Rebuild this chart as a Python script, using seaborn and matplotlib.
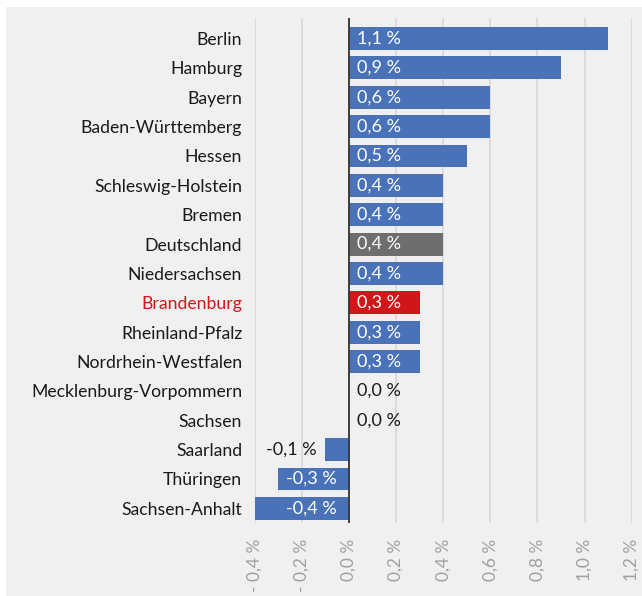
import matplotlib
matplotlib.use("Agg")
import matplotlib.pyplot as plt
import pandas as pd
import seaborn as sns
from matplotlib.patches import Rectangle

laender = ['Berlin', 'Hamburg', 'Bayern', 'Baden-Württemberg', 'Hessen',
           'Schleswig-Holstein', 'Bremen', 'Deutschland', 'Niedersachsen',
           'Brandenburg', 'Rheinland-Pfalz', 'Nordrhein-Westfalen',
           'Mecklenburg-Vorpommern', 'Sachsen', 'Saarland', 'Thüringen',
           'Sachsen-Anhalt']
veraenderung = [1.1, 0.9, 0.6, 0.6, 0.5, 0.4, 0.4, 0.4, 0.4, 0.3, 0.3, 0.3,
                0.0, 0.0, -0.1, -0.3, -0.4]
x_ticks = [-0.4, -0.2, 0.0, 0.2, 0.4, 0.6, 0.8, 1.0, 1.2]

BLAU = '#4a72b8'
GRAU = '#6e6e6e'
ROT = '#d0161a'
HG = '#f0f0f0'

df = pd.DataFrame({'land': laender, 'wert': veraenderung})
farben = {l: BLAU for l in laender}
farben['Deutschland'] = GRAU
farben['Brandenburg'] = ROT

sns.set_style('white')
plt.rcParams['font.family'] = ['Lato', 'DejaVu Sans']

W, H = 642, 596
fig = plt.figure(figsize=(W / 100, H / 100), dpi=100)
fig.patch.set_facecolor('white')
fig.patches.append(Rectangle((6 / W, 0), 1 - 6 / W, 1 - 7 / H,
                             transform=fig.transFigure, facecolor=HG,
                             edgecolor='none', zorder=-10))

ax = fig.add_axes([254.7 / W, 1 - 523 / H, 377 / W, 505 / H])
ax.set_facecolor('none')

sns.barplot(data=df, y='land', x='wert', hue='land', palette=farben,
            orient='h', width=0.78, legend=False, ax=ax, zorder=3,
            saturation=1, linewidth=0)

ax.set_xlim(-0.4, 1.2)
ax.set_ylim(16.5, -0.7)
ax.set_xticks(x_ticks)


def fmt(v):
    s = f'{abs(v):.1f}'.replace('.', ',') + ' %'
    return '- ' + s if v < 0 else s


ax.set_xticklabels([fmt(v) for v in x_ticks], rotation=90, color='#a0a0a0',
                   fontsize=12.5)
ax.tick_params(axis='x', length=10, width=1.2, color='#d9d9d9', pad=1.5)
ax.tick_params(axis='y', length=0, pad=9, labelsize=12.7)
for t in ax.get_yticklabels():
    t.set_color(ROT if t.get_text() == 'Brandenburg' else '#1a1a1a')

ax.grid(axis='x', color='#d9d9d9', linewidth=1.3, zorder=0)
ax.axvline(0, color='#333333', linewidth=1.3, zorder=4)
for s in ax.spines.values():
    s.set_visible(False)
ax.set_xlabel('')
ax.set_ylabel('')

fs = 13
for i, v in enumerate(veraenderung):
    text = f'{v:.1f}'.replace('.', ',') + ' %'
    if v > 0:
        ax.annotate(text, (0, i), xytext=(6, 0), textcoords='offset points',
                    ha='left', va='center', color='white', fontsize=fs, zorder=5)
    elif v == 0:
        ax.annotate(text, (0, i), xytext=(6, 0), textcoords='offset points',
                    ha='left', va='center', color='#1a1a1a', fontsize=fs, zorder=5)
    elif v > -0.2:
        ax.annotate(text, (v, i), xytext=(-6.5, 0), textcoords='offset points',
                    ha='right', va='center', color='#1a1a1a', fontsize=fs, zorder=5)
    else:
        ax.annotate(text, (0, i), xytext=(-9, 0), textcoords='offset points',
                    ha='right', va='center', color='white', fontsize=fs, zorder=5)

fig.savefig('out.png', dpi=100)
